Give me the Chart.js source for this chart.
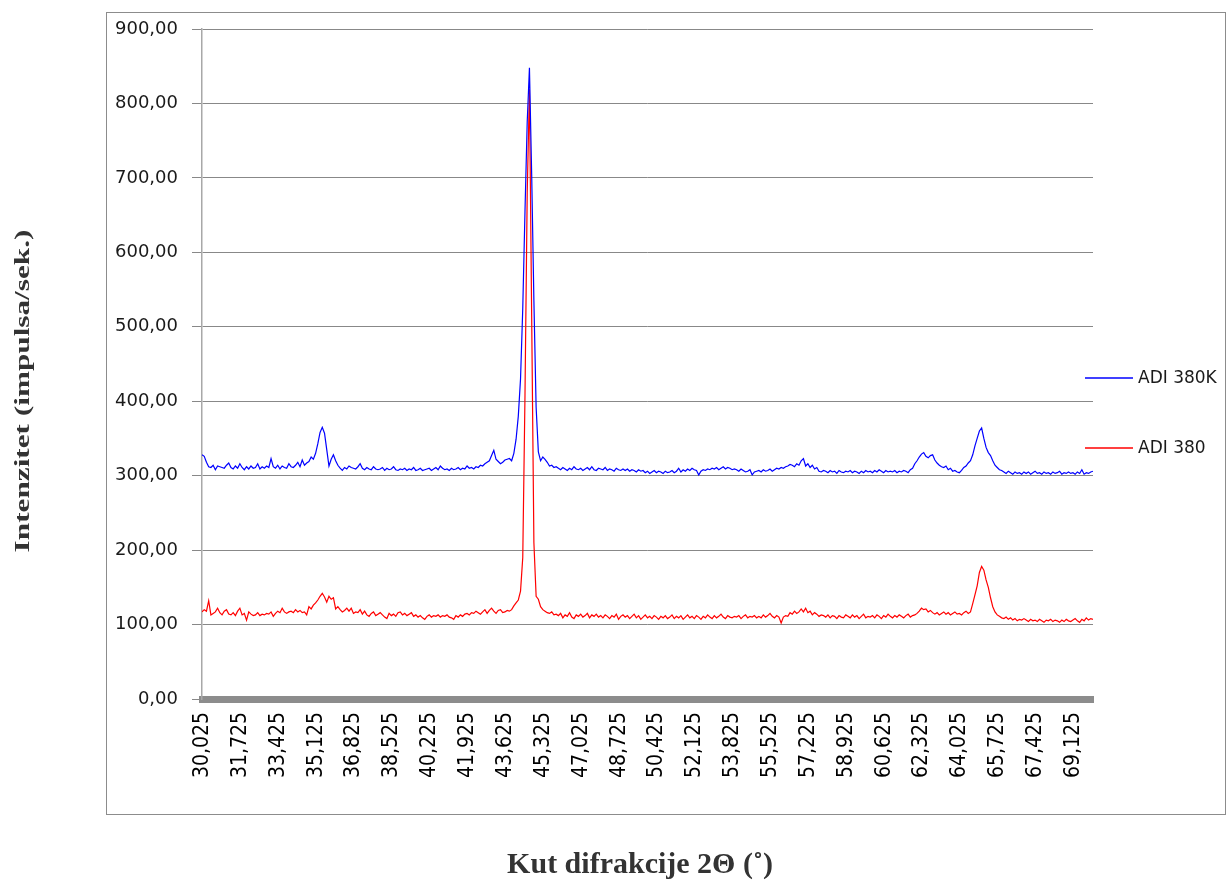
<!DOCTYPE html>
<html>
<head>
<meta charset="utf-8">
<script src="https://cdn.jsdelivr.net/npm/chart.js@4/dist/chart.umd.min.js"></script>
<style>
  html, body { margin: 0; padding: 0; background: #fff; }
  #wrap { width: 1227px; height: 884px; }
</style>
</head>
<body>
<div id="wrap"><canvas id="xrd" width="1227" height="884"></canvas></div>
<script>
// 2-theta angles (deg)
const angles = [
  30.0,30.1,30.2,30.3,30.4,30.5,30.6,30.7,30.8,30.9,
  31.0,31.1,31.2,31.3,31.4,31.5,31.6,31.7,31.8,31.9,
  32.0,32.1,32.2,32.3,32.4,32.5,32.6,32.7,32.8,32.9,
  33.0,33.1,33.2,33.3,33.4,33.5,33.6,33.7,33.8,33.9,
  34.0,34.1,34.2,34.3,34.4,34.5,34.6,34.7,34.8,34.9,
  35.0,35.1,35.2,35.3,35.4,35.5,35.6,35.7,35.8,35.9,
  36.0,36.1,36.2,36.3,36.4,36.5,36.6,36.7,36.8,36.9,
  37.0,37.1,37.2,37.3,37.4,37.5,37.6,37.7,37.8,37.9,
  38.0,38.1,38.2,38.3,38.4,38.5,38.6,38.7,38.8,38.9,
  39.0,39.1,39.2,39.3,39.4,39.5,39.6,39.7,39.8,39.9,
  40.0,40.1,40.2,40.3,40.4,40.5,40.6,40.7,40.8,40.9,
  41.0,41.1,41.2,41.3,41.4,41.5,41.6,41.7,41.8,41.9,
  42.0,42.1,42.2,42.3,42.4,42.5,42.6,42.7,42.8,42.9,
  43.0,43.1,43.2,43.3,43.4,43.5,43.6,43.7,43.8,43.9,
  44.0,44.1,44.2,44.3,44.4,44.5,44.6,44.7,44.8,44.9,
  45.0,45.1,45.2,45.3,45.4,45.5,45.6,45.7,45.8,45.9,
  46.0,46.1,46.2,46.3,46.4,46.5,46.6,46.7,46.8,46.9,
  47.0,47.1,47.2,47.3,47.4,47.5,47.6,47.7,47.8,47.9,
  48.0,48.1,48.2,48.3,48.4,48.5,48.6,48.7,48.8,48.9,
  49.0,49.1,49.2,49.3,49.4,49.5,49.6,49.7,49.8,49.9,
  50.0,50.1,50.2,50.3,50.4,50.5,50.6,50.7,50.8,50.9,
  51.0,51.1,51.2,51.3,51.4,51.5,51.6,51.7,51.8,51.9,
  52.0,52.1,52.2,52.3,52.4,52.5,52.6,52.7,52.8,52.9,
  53.0,53.1,53.2,53.3,53.4,53.5,53.6,53.7,53.8,53.9,
  54.0,54.1,54.2,54.3,54.4,54.5,54.6,54.7,54.8,54.9,
  55.0,55.1,55.2,55.3,55.4,55.5,55.6,55.7,55.8,55.9,
  56.0,56.1,56.2,56.3,56.4,56.5,56.6,56.7,56.8,56.9,
  57.0,57.1,57.2,57.3,57.4,57.5,57.6,57.7,57.8,57.9,
  58.0,58.1,58.2,58.3,58.4,58.5,58.6,58.7,58.8,58.9,
  59.0,59.1,59.2,59.3,59.4,59.5,59.6,59.7,59.8,59.9,
  60.0,60.1,60.2,60.3,60.4,60.5,60.6,60.7,60.8,60.9,
  61.0,61.1,61.2,61.3,61.4,61.5,61.6,61.7,61.8,61.9,
  62.0,62.1,62.2,62.3,62.4,62.5,62.6,62.7,62.8,62.9,
  63.0,63.1,63.2,63.3,63.4,63.5,63.6,63.7,63.8,63.9,
  64.0,64.1,64.2,64.3,64.4,64.5,64.6,64.7,64.8,64.9,
  65.0,65.1,65.2,65.3,65.4,65.5,65.6,65.7,65.8,65.9,
  66.0,66.1,66.2,66.3,66.4,66.5,66.6,66.7,66.8,66.9,
  67.0,67.1,67.2,67.3,67.4,67.5,67.6,67.7,67.8,67.9,
  68.0,68.1,68.2,68.3,68.4,68.5,68.6,68.7,68.8,68.9,
  69.0,69.1,69.2,69.3,69.4,69.5,69.6,69.7,69.8,69.9,
  70.0
];

// ADI 380K (blue)
const adi380K = [
  328,326,318,312,311,314,308,313,312,311,
  310,314,317,311,309,313,310,316,311,308,
  312,309,313,310,311,316,309,312,310,313,
  311,323,312,310,314,309,313,311,310,316,
  312,311,314,318,312,321,314,317,319,325,
  322,330,343,358,365,357,335,313,322,328,
  320,314,310,307,311,309,313,311,310,309,
  312,316,310,308,311,309,308,312,309,308,
  309,311,307,310,308,309,312,308,307,309,
  308,310,307,309,308,311,307,308,310,307,
  308,309,310,307,309,311,308,313,310,308,
  309,307,310,308,309,311,308,310,309,313,
  310,311,309,312,311,314,313,316,318,320,
  327,334,322,319,316,318,321,322,323,320,
  330,349,380,430,525,655,775,848,705,535,
  392,332,320,325,322,318,313,314,311,312,
  310,308,311,309,307,310,308,312,309,308,
  310,307,309,311,308,312,308,307,310,309,
  308,311,307,309,308,306,310,308,307,309,
  307,309,306,308,307,305,308,306,307,304,
  306,303,305,307,304,306,305,303,306,304,
  305,307,304,306,310,305,308,306,309,307,
  310,308,307,301,306,308,307,309,308,310,
  309,311,308,310,312,309,311,310,308,309,
  308,306,309,307,305,306,308,301,305,306,
  307,305,308,306,307,309,306,308,310,309,
  311,310,312,313,315,314,312,316,314,320,
  323,313,316,311,314,309,311,306,305,307,
  306,304,307,305,306,303,307,305,304,306,
  305,307,304,306,305,303,306,304,307,305,
  306,304,307,305,308,306,304,307,305,306,
  305,307,304,306,305,307,306,304,308,310,
  316,320,325,329,331,326,324,327,328,321,
  317,314,312,311,313,308,310,306,307,305,
  304,307,311,313,317,320,328,340,350,360,
  364,350,338,331,327,320,314,311,308,307,
  305,303,306,304,302,305,303,304,302,305,
  303,305,302,304,306,303,304,302,305,303,
  304,302,305,303,304,306,302,304,303,305,
  303,304,302,305,303,308,302,304,303,305,
  306
];

// ADI 380 (red)
const adi380 = [
  117,120,118,132,113,115,117,122,116,113,
  118,120,114,113,116,112,118,122,113,115,
  106,117,114,112,113,116,112,114,113,115,
  114,117,111,115,118,116,122,117,115,117,
  118,116,120,117,119,116,117,113,124,121,
  126,129,133,138,142,137,130,138,134,136,
  121,124,120,117,119,122,118,122,115,117,
  116,120,114,118,113,111,115,117,112,114,
  116,113,110,108,115,112,114,111,116,117,
  113,115,112,114,116,111,113,110,112,109,
  107,111,113,110,112,111,113,110,112,111,
  113,110,109,107,112,110,113,111,114,115,
  113,116,115,118,116,114,117,120,115,119,
  122,118,115,119,120,116,117,119,118,120,
  125,129,133,145,190,408,680,819,514,210,
  138,134,124,120,118,116,115,117,113,114,
  112,115,109,113,111,116,110,108,113,111,
  114,110,112,115,109,113,111,114,110,112,
  109,113,111,108,112,110,114,107,111,113,
  110,112,108,111,114,109,112,107,110,113,
  109,111,108,112,110,107,111,109,112,108,
  110,113,108,111,109,112,107,110,113,109,
  111,108,112,110,107,111,109,113,110,108,
  112,109,111,114,110,108,112,110,109,111,
  110,112,108,111,113,109,111,110,112,109,
  111,109,113,110,112,115,111,109,112,110,
  102,110,112,111,116,114,118,115,117,121,
  117,122,116,118,113,116,114,111,113,112,
  110,113,109,112,111,108,112,110,109,113,
  111,109,113,110,112,108,111,114,109,111,
  110,112,109,113,111,108,112,110,114,111,
  109,112,110,113,111,109,112,114,110,112,
  113,115,118,122,120,121,117,119,116,114,
  116,113,115,117,114,116,113,115,117,114,
  115,113,116,118,115,117,128,140,152,170,
  178,173,160,150,136,124,117,113,111,109,
  108,110,107,109,106,108,105,107,106,108,
  106,104,107,105,106,104,107,105,103,106,
  105,107,104,106,105,103,106,104,107,105,
  104,106,108,105,103,107,105,109,106,108,
  107
];

// x tick labels as in the original sheet
const xTicks = [30.025, 31.725, 33.425, 35.125, 36.825, 38.525, 40.225, 41.925,
  43.625, 45.325, 47.025, 48.725, 50.425, 52.125, 53.825, 55.525, 57.225,
  58.925, 60.625, 62.325, 64.025, 65.725, 67.425, 69.125];

const xTitle = 'Kut difrakcije 2Θ (˚)';
const yTitle = 'Intenzitet (impulsa/sek.)';

// frame, legend on the right and the two axis titles
const decor = {
  id: 'decor',
  beforeDraw(chart) {
    const { ctx, chartArea: a } = chart;
    ctx.save();
    ctx.strokeStyle = '#8c8c8c';
    ctx.lineWidth = 1;
    ctx.strokeRect(a.left - 95.5, a.top - 16.5, chart.width - a.left + 94, a.bottom - a.top + 132);
    ctx.restore();
  },
  afterDraw(chart) {
    const { ctx, chartArea: a } = chart;
    ctx.save();
    ctx.font = '17px "DejaVu Sans"';
    ctx.textBaseline = 'middle';
    ctx.textAlign = 'left';
    chart.data.datasets.forEach((ds, i) => {
      const y = a.top + 349 + i * 70;
      ctx.strokeStyle = ds.borderColor;
      ctx.lineWidth = 1.5;
      ctx.beginPath();
      ctx.moveTo(a.right - 8, y);
      ctx.lineTo(a.right + 40, y);
      ctx.stroke();
      ctx.fillStyle = '#1a1a1a';
      ctx.fillText(ds.label, a.right + 45, y + 1);
    });

    ctx.fillStyle = '#333';
    ctx.font = 'bold 30px "Liberation Serif"';
    ctx.textAlign = 'center';
    ctx.textBaseline = 'alphabetic';
    ctx.fillText(xTitle, a.left + 438, a.bottom + 174);

    ctx.translate(29, a.top + 362);
    ctx.rotate(-Math.PI / 2);
    ctx.scale(1.42, 1);
    ctx.font = 'bold 22px "Liberation Serif"';
    ctx.fillText(yTitle, 0, 0);
    ctx.restore();
  }
};

const chart = new Chart(document.getElementById('xrd'), {
  type: 'line',
  data: {
    labels: angles,
    datasets: [
      { label: 'ADI 380K', data: adi380K, borderColor: '#0000ff', borderWidth: 1.2, pointRadius: 0, tension: 0 },
      { label: 'ADI 380', data: adi380, borderColor: '#ff0000', borderWidth: 1.2, pointRadius: 0, tension: 0 }
    ]
  },
  options: {
    responsive: false,
    devicePixelRatio: 1,
    animation: false,
    layout: { padding: { left: 0, top: 29, right: 134, bottom: 0 } },
    plugins: { legend: { display: false }, tooltip: { enabled: false } },
    scales: {
      x: {
        type: 'linear',
        min: 30,
        max: 70,
        afterBuildTicks: s => { s.ticks = xTicks.map(v => ({ value: v })); },
        afterFit: s => { s.height = 185; },
        grid: { drawOnChartArea: false, drawTicks: false },
        border: { display: true, color: '#8c8c8c', width: 7 },
        ticks: {
          autoSkip: false,
          minRotation: 90,
          maxRotation: 90,
          padding: 13,
          color: '#000',
          font: { family: '"Liberation Sans Narrow", "DejaVu Sans Condensed", "Liberation Sans"', size: 21 },
          callback: v => v.toFixed(3).replace('.', ',')
        }
      },
      y: {
        min: 0,
        max: 900,
        afterFit: s => { s.width = 202; },
        grid: { color: '#888', lineWidth: 1, tickLength: 10 },
        border: { display: true, color: '#a8a8a8', width: 1.5 },
        ticks: {
          stepSize: 100,
          padding: 14,
          color: '#1a1a1a',
          font: { family: '"DejaVu Sans"', size: 18 },
          callback: v => v.toFixed(2).replace('.', ',')
        }
      }
    }
  },
  plugins: [decor]
});
</script>
</body>
</html>
